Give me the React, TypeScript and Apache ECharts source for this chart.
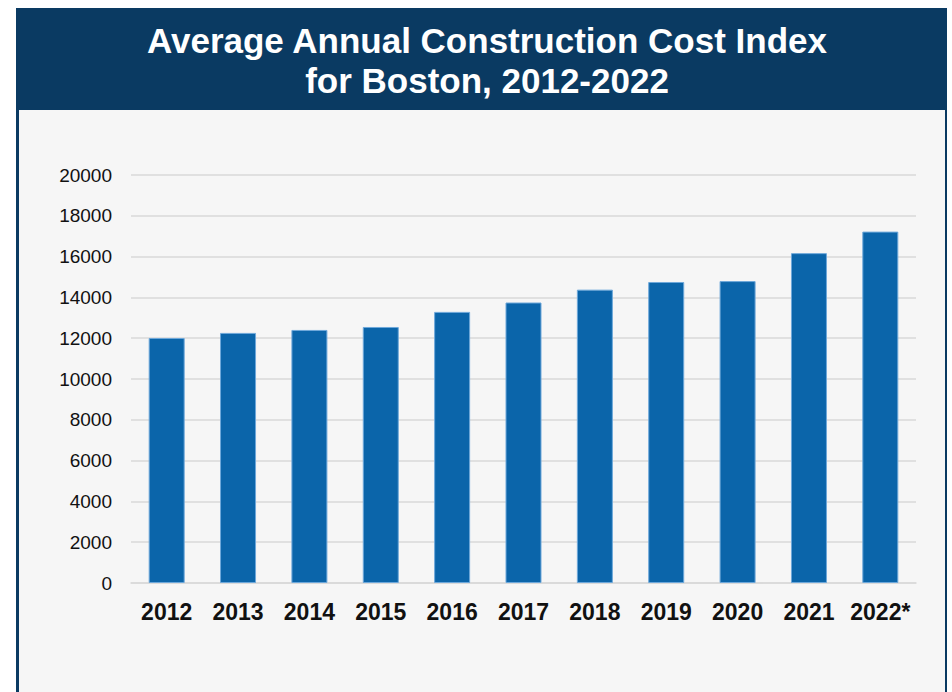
import React, { useEffect, useRef } from "react";
import * as echarts from "echarts";

const categories = ["2012", "2013", "2014", "2015", "2016", "2017", "2018", "2019", "2020", "2021", "2022*"];
const costIndex = [12010, 12260, 12405, 12550, 13290, 13750, 14380, 14755, 14800, 16170, 17225];
const yMin = 0;
const yMax = 20000;
const yStep = 2000;
const titleText = "Average Annual Construction Cost Index\nfor Boston, 2012-2022";

export default function App() {
  const ref = useRef<HTMLDivElement>(null);
  useEffect(() => {
    if (!ref.current) return;
    const chart = echarts.init(ref.current, null, { renderer: "svg" });
    const font = "'Liberation Sans', Arial, Helvetica, sans-serif";
    chart.setOption({
      animation: false,
      backgroundColor: "#ffffff",
      graphic: [
        { type: "rect", z: -10, shape: { x: 16, y: 8, width: 931, height: 700 }, style: { fill: "#0a3a62" } },
        { type: "rect", z: -9, shape: { x: 19, y: 110, width: 926, height: 600 }, style: { fill: "#f6f6f6" } },
      ],
      title: {
        text: titleText,
        left: 482,
        top: 15,
        textAlign: "center",
        textStyle: {
          color: "#ffffff",
          fontFamily: font,
          fontWeight: "bold",
          fontSize: 35,
          lineHeight: 40,
        },
      },
      grid: { left: 131, right: 36, top: 175, bottom: 109, containLabel: false },
      xAxis: {
        type: "category",
        data: categories,
        axisLine: { show: true, lineStyle: { color: "#d9d9d9", width: 1.5 } },
        axisTick: { show: false },
        axisLabel: {
          color: "#111111",
          fontFamily: font,
          fontWeight: "bold",
          fontSize: 23,
          margin: 17,
          interval: 0,
        },
      },
      yAxis: {
        type: "value",
        min: yMin,
        max: yMax,
        interval: yStep,
        axisLine: { show: false },
        axisTick: { show: false },
        splitLine: { lineStyle: { color: "#d9d9d9", width: 1.5 } },
        axisLabel: {
          color: "#111111",
          fontFamily: font,
          fontSize: 19,
          margin: 19,
          formatter: (v: number) => String(v),
        },
      },
      series: [
        {
          type: "bar",
          data: costIndex,
          barWidth: 36,
          itemStyle: { color: "#0b65aa", borderColor: "#6ea8da", borderWidth: 1 },
        },
      ],
    });
    return () => chart.dispose();
  }, []);
  return (
    <div
      ref={ref}
      style={{ position: "absolute", left: 0, top: 0, width: 952, height: 692 }}
    />
  );
}
